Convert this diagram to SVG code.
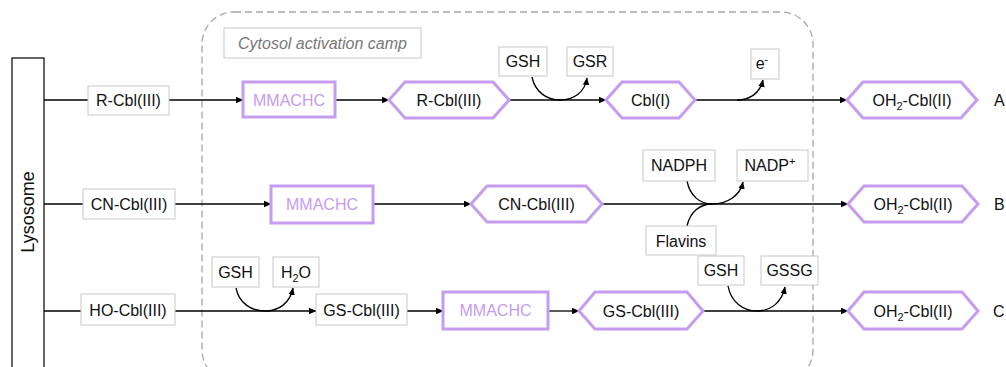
<svg xmlns="http://www.w3.org/2000/svg" width="1006" height="367" viewBox="0 0 1006 367">
<defs>
<marker id="ah" markerWidth="8" markerHeight="8" refX="7" refY="4" orient="auto" markerUnits="userSpaceOnUse">
<path d="M0,0.8 L7.5,4 L0,7.2 Z" fill="#000"/>
</marker>
<style>
text{font-family:"Liberation Sans",Arial,sans-serif;font-size:16px;fill:#111;}
.box{fill:#fff;stroke:#c8c8c8;stroke-width:1;}
.hex{fill:#fff;stroke:#c59cf0;stroke-width:3;stroke-linejoin:miter;}
.mm{fill:#fff;stroke:#c59cf0;stroke-width:3;}
.mmt{fill:#c59cf0;}
.ln{fill:none;stroke:#000;stroke-width:1.3;}
.arr{fill:none;stroke:#000;stroke-width:1.3;marker-end:url(#ah);}
</style>
</defs>
<rect x="0" y="0" width="1006" height="367" fill="#fff"/>
<g id="cytosol">
<rect x="202" y="12" width="611" height="370" rx="32" ry="32" fill="none" stroke="#a6a6a6" stroke-width="1.3" stroke-dasharray="7,4"/>
<rect class="box" x="224" y="28" width="197" height="30"/>
<text x="322.5" y="49" text-anchor="middle" font-style="italic" style="fill:#777">Cytosol activation camp</text>
</g>
<g id="connectors">
<line class="ln" x1="44" y1="100" x2="88" y2="100"/>
<line class="arr" x1="169" y1="100" x2="243" y2="100"/>
<line class="arr" x1="335" y1="100" x2="389" y2="100"/>
<line class="arr" x1="509" y1="100" x2="606" y2="100"/>
<line class="arr" x1="695" y1="100" x2="847" y2="100"/>
<path class="arr" d="M532,77 C535,92 547,100 560,100 C574,100 585,92 587,78"/>
<path class="arr" d="M737,100 C750,100 760,93 763,80"/>
<line class="ln" x1="44" y1="204" x2="83" y2="204"/>
<line class="arr" x1="175" y1="204" x2="271" y2="204"/>
<line class="arr" x1="373" y1="204" x2="471" y2="204"/>
<line class="arr" x1="602" y1="204" x2="848" y2="204"/>
<path class="arr" d="M687,181 C690,196 700,204 712,204 C727,204 740,196 743,182"/>
<path class="ln" d="M687,226 C690,212 700,204 712,204"/>
<line class="ln" x1="44" y1="311" x2="81" y2="311"/>
<line class="arr" x1="175" y1="311" x2="316" y2="311"/>
<line class="arr" x1="407" y1="311" x2="443" y2="311"/>
<line class="arr" x1="548" y1="311" x2="579" y2="311"/>
<line class="arr" x1="703" y1="311" x2="848" y2="311"/>
<path class="arr" d="M236,288 C239,303 251,311 265,311 C279,311 290,303 293,288"/>
<path class="arr" d="M728,286 C731,302 743,311 757,311 C771,311 782,302 785,287"/>
</g>
<g id="lysosome">
<rect x="12" y="58" width="32" height="330" fill="#fff" stroke="#000" stroke-width="1.2"/>
<text x="0" y="0" transform="translate(34,212) rotate(-90)" text-anchor="middle" style="font-size:18px">Lysosome</text>
</g>
<g id="rcbl-box"><rect class="box" x="88" y="86" width="81" height="29"/><text x="128.5" y="106" text-anchor="middle">R-Cbl(III)</text></g>
<g id="mmachc-a"><rect class="mm" x="243" y="82" width="92" height="35"/><text class="mmt" x="289" y="106" text-anchor="middle">MMACHC</text></g>
<g id="rcbl-hex"><polygon class="hex" points="389,100 405,82 493,82 509,100 493,118 405,118"/><text x="449" y="106" text-anchor="middle">R-Cbl(III)</text></g>
<g id="gsh-a"><rect class="box" x="499" y="47" width="48" height="29"/><text x="523" y="67" text-anchor="middle">GSH</text></g>
<g id="gsr"><rect class="box" x="567" y="47" width="46" height="29"/><text x="590" y="67" text-anchor="middle">GSR</text></g>
<g id="cbl1"><polygon class="hex" points="606,100 622,82 679,82 695,100 679,118 622,118"/><text x="650.5" y="106" text-anchor="middle">Cbl(I)</text></g>
<g id="eminus"><rect class="box" x="751" y="49" width="28" height="30"/><text x="762" y="69" text-anchor="middle">e<tspan font-size="11" dy="-6">-</tspan></text></g>
<g id="oh2-a"><polygon class="hex" points="847,100 863,82 961,82 977,100 961,118 863,118"/><text x="912" y="106" text-anchor="middle">OH<tspan font-size="11" dy="4">2</tspan><tspan dy="-4">-Cbl(II)</tspan></text></g>
<g id="label-a"><text x="994" y="106">A</text></g>
<g id="cncbl-box"><rect class="box" x="83" y="189" width="92" height="30"/><text x="129" y="210" text-anchor="middle">CN-Cbl(III)</text></g>
<g id="mmachc-b"><rect class="mm" x="271" y="186" width="102" height="37"/><text class="mmt" x="322" y="210" text-anchor="middle">MMACHC</text></g>
<g id="cncbl-hex"><polygon class="hex" points="471,204 487,186 586,186 602,204 586,222 487,222"/><text x="536.5" y="210" text-anchor="middle">CN-Cbl(III)</text></g>
<g id="nadph"><rect class="box" x="643" y="150" width="72" height="31"/><text x="679" y="171" text-anchor="middle">NADPH</text></g>
<g id="nadp"><rect class="box" x="737" y="150" width="71" height="31"/><text x="770" y="171" text-anchor="middle">NADP<tspan font-size="11" dy="-6">+</tspan></text></g>
<g id="flavins"><rect class="box" x="646" y="226" width="70" height="29"/><text x="681" y="247" text-anchor="middle">Flavins</text></g>
<g id="oh2-b"><polygon class="hex" points="848,204 864,186 962,186 978,204 962,222 864,222"/><text x="913" y="210" text-anchor="middle">OH<tspan font-size="11" dy="4">2</tspan><tspan dy="-4">-Cbl(II)</tspan></text></g>
<g id="label-b"><text x="994" y="210">B</text></g>
<g id="hocbl-box"><rect class="box" x="81" y="294" width="94" height="31"/><text x="128" y="316" text-anchor="middle">HO-Cbl(III)</text></g>
<g id="gsh-c1"><rect class="box" x="212" y="257" width="47" height="30"/><text x="235.5" y="278" text-anchor="middle">GSH</text></g>
<g id="h2o"><rect class="box" x="273" y="257" width="46" height="30"/><text x="296" y="278" text-anchor="middle">H<tspan font-size="11" dy="4">2</tspan><tspan dy="-4">O</tspan></text></g>
<g id="gscbl-box"><rect class="box" x="316" y="294" width="91" height="31"/><text x="361.5" y="316" text-anchor="middle">GS-Cbl(III)</text></g>
<g id="mmachc-c"><rect class="mm" x="443" y="292" width="105" height="37"/><text class="mmt" x="495.5" y="316" text-anchor="middle">MMACHC</text></g>
<g id="gscbl-hex"><polygon class="hex" points="579,311 595,292 687,292 703,311 687,329 595,329"/><text x="641" y="317" text-anchor="middle">GS-Cbl(III)</text></g>
<g id="gsh-c2"><rect class="box" x="698" y="256" width="46" height="29"/><text x="721" y="276" text-anchor="middle">GSH</text></g>
<g id="gssg"><rect class="box" x="761" y="256" width="57" height="29"/><text x="789.5" y="276" text-anchor="middle">GSSG</text></g>
<g id="oh2-c"><polygon class="hex" points="848,311 864,292 962,292 978,311 962,329 864,329"/><text x="913" y="317" text-anchor="middle">OH<tspan font-size="11" dy="4">2</tspan><tspan dy="-4">-Cbl(II)</tspan></text></g>
<g id="label-c"><text x="993" y="317">C</text></g>
</svg>
